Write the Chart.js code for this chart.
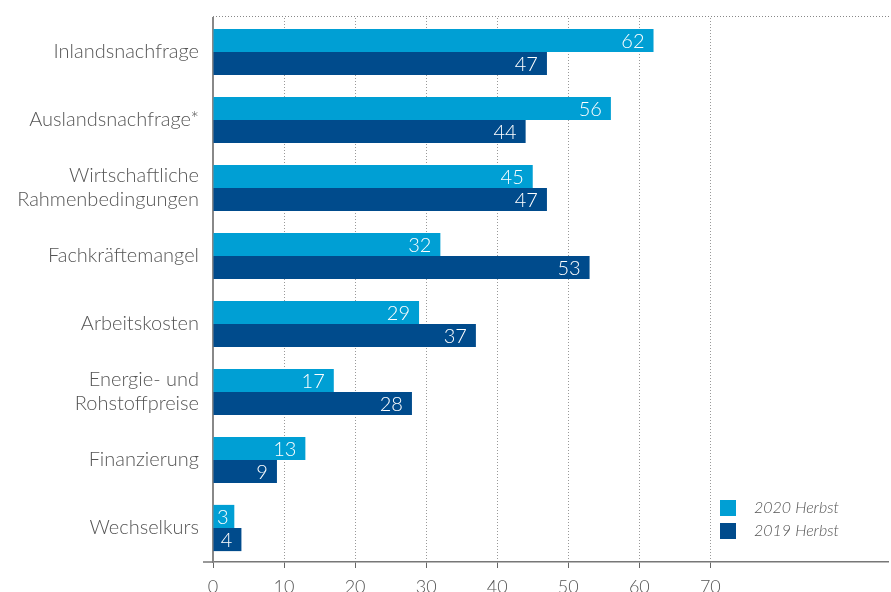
<!DOCTYPE html>
<html lang="de">
<head>
<meta charset="utf-8">
<title>Geschäftsrisiken</title>
<script src="https://cdn.jsdelivr.net/npm/chart.js@4.4.1/dist/chart.umd.min.js"></script>
<style>
  html, body { margin: 0; padding: 0; background: #fff; }
  #wrap { width: 891px; height: 592px; }
</style>
</head>
<body>
<div id="wrap"><canvas id="risiken" width="891" height="592"></canvas></div>
<script>
// Kategorien und Werte (Anteil der Nennungen in %)
const kategorien = [
  'Inlandsnachfrage',
  'Auslandsnachfrage*',
  ['Wirtschaftliche', 'Rahmenbedingungen'],
  'Fachkräftemangel',
  'Arbeitskosten',
  ['Energie- und', 'Rohstoffpreise'],
  'Finanzierung',
  'Wechselkurs'
];
const herbst2020 = [62, 56, 45, 32, 29, 17, 13, 3];
const herbst2019 = [47, 44, 47, 53, 37, 28, 9, 4];
const achsenTicks = [0, 10, 20, 30, 40, 50, 60, 70];
const achsenMax = 95;

const HELLBLAU = '#009fd4';
const DUNKELBLAU = '#004b8c';
const SCHRIFT = 'Lato, "Open Sans", "DejaVu Sans", sans-serif';

Chart.defaults.font.family = SCHRIFT;
Chart.defaults.color = '#555';

// Zahlen rechts innen im Balken
const balkenWerte = {
  id: 'balkenWerte',
  afterDatasetsDraw(chart) {
    const ctx = chart.ctx;
    ctx.save();
    ctx.font = '300 20px ' + SCHRIFT;
    ctx.fillStyle = '#fff';
    ctx.textAlign = 'right';
    ctx.textBaseline = 'middle';
    chart.data.datasets.forEach((ds, i) => {
      chart.getDatasetMeta(i).data.forEach((bar, j) => {
        const txt = String(ds.data[j]);
        const w = ctx.measureText(txt).width;
        const x = Math.max(bar.x - 9, chart.chartArea.left + 4 + w);
        ctx.fillText(txt, x, bar.y + 1);
      });
    });
    ctx.restore();
  }
};

// gepunktete Linie oben und Achsenverlängerung links unten
const rahmen = {
  id: 'rahmen',
  beforeDatasetsDraw(chart) {
    const { ctx, chartArea } = chart;
    ctx.save();
    ctx.strokeStyle = '#888';
    ctx.lineWidth = 1;
    ctx.setLineDash([1, 2]);
    ctx.beginPath();
    ctx.moveTo(chartArea.left, chartArea.top - 1.5);
    ctx.lineTo(chart.width, chartArea.top - 1.5);
    ctx.stroke();
    ctx.setLineDash([]);
    ctx.strokeStyle = '#777';
    ctx.lineWidth = 1.5;
    ctx.beginPath();
    ctx.moveTo(chartArea.left - 10, chartArea.bottom);
    ctx.lineTo(chartArea.left, chartArea.bottom);
    ctx.stroke();
    ctx.restore();
  }
};

// Legende unten rechts im Diagramm
const legende = {
  id: 'legende',
  afterDraw(chart) {
    const ctx = chart.ctx;
    ctx.save();
    ctx.font = 'italic 300 16px ' + SCHRIFT;
    ctx.textBaseline = 'middle';
    chart.data.datasets.forEach((ds, i) => {
      const y = 500 + i * 23;
      ctx.fillStyle = ds.backgroundColor;
      ctx.fillRect(720, y, 16, 16);
      ctx.fillStyle = '#555';
      ctx.fillText(ds.label, 754, y + 8);
    });
    ctx.restore();
  }
};

const chart = new Chart(document.getElementById('risiken'), {
  type: 'bar',
  data: {
    labels: kategorien,
    datasets: [
      { label: '2020 Herbst', data: herbst2020, backgroundColor: HELLBLAU },
      { label: '2019 Herbst', data: herbst2019, backgroundColor: DUNKELBLAU }
    ]
  },
  options: {
    indexAxis: 'y',
    responsive: false,
    animation: false,
    devicePixelRatio: 1,
    categoryPercentage: 0.68,
    barPercentage: 1.0,
    layout: { padding: { top: 18, right: 3, left: 0, bottom: 0 } },
    plugins: {
      legend: { display: false },
      tooltip: { enabled: false }
    },
    scales: {
      x: {
        type: 'linear',
        min: 0,
        max: achsenMax,
        afterBuildTicks(scale) {
          scale.ticks = achsenTicks.map(v => ({ value: v }));
        },
        afterFit(scale) { scale.height = 30; },
        ticks: {
          font: { size: 18, weight: '300' },
          color: '#555',
          padding: 8,
          maxRotation: 0
        },
        grid: {
          color: '#999',
          lineWidth: 1,
          tickLength: 6,
          tickColor: '#666'
        },
        border: { display: true, color: '#777', width: 1.5, dash: [1, 2] }
      },
      y: {
        afterFit(scale) { scale.width = 213; },
        ticks: {
          font: { size: 20, weight: '300', lineHeight: 1.2 },
          color: '#555',
          padding: 0,
          autoSkip: false
        },
        // Abstand der Beschriftung zur Achse über die (unsichtbare) Tick-Länge
        grid: { display: false, drawTicks: true, tickLength: 14 },
        border: { display: true, color: '#888', width: 2 }
      }
    }
  },
  plugins: [rahmen, balkenWerte, legende]
});
</script>
</body>
</html>
